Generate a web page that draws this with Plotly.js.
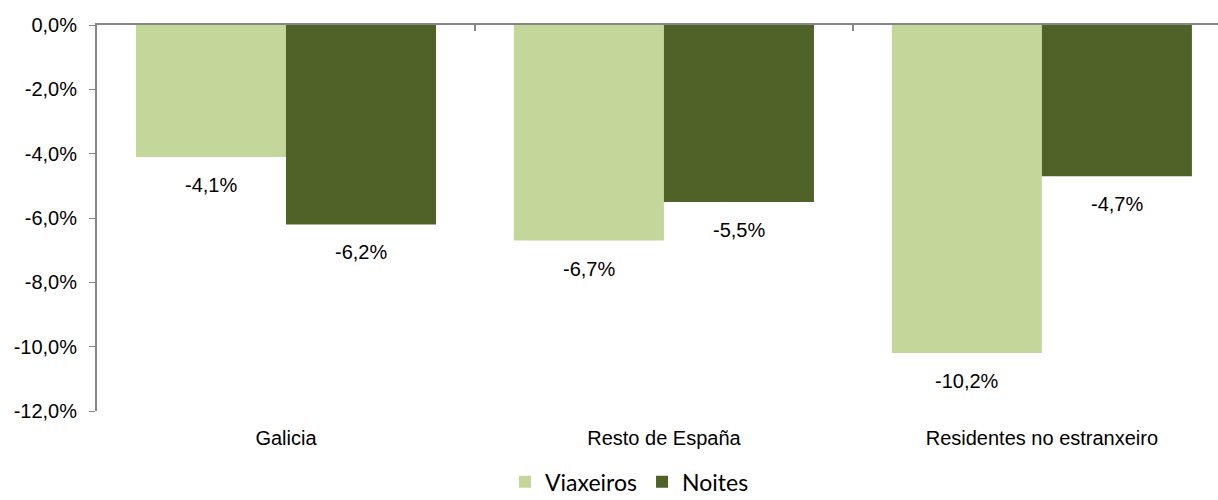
<!DOCTYPE html>
<html>
<head>
<meta charset="utf-8">
<script src="https://cdn.plot.ly/plotly-3.0.1.min.js"></script>
<style>
  html, body { margin: 0; padding: 0; background: #fff; }
  #graph { width: 1218px; height: 500px; }
</style>
</head>
<body>
<div id="graph"></div>
<script>
var categories = ['Galicia', 'Resto de España', 'Residentes no estranxeiro'];
var viaxeiros = [-4.1, -6.7, -10.2];
var noites = [-6.2, -5.5, -4.7];
var yTicks = [0, -2, -4, -6, -8, -10, -12];

function fmt(v) {
  return v.toFixed(1).replace('.', ',') + '%';
}

function main() {
  var font = 'Liberation Sans, Arial, sans-serif';

  var trace1 = {
    x: categories, y: viaxeiros, name: 'Viaxeiros', type: 'bar',
    marker: {color: '#C4D79B'}, hoverinfo: 'skip'
  };
  var trace2 = {
    x: categories, y: noites, name: 'Noites', type: 'bar',
    marker: {color: '#4F6228'}, hoverinfo: 'skip'
  };
  // empty trace so the top axis (zero line with boundary ticks) gets drawn
  var topAxis = {
    x: categories, y: [null, null, null], xaxis: 'x2', type: 'scatter',
    mode: 'markers', showlegend: false, hoverinfo: 'skip'
  };

  // value labels under each bar end
  var off = 0.198;
  var annotations = [];
  for (let i = 0; i < categories.length; i++) {
    annotations.push({x: i - off, y: viaxeiros[i], text: fmt(viaxeiros[i])});
    annotations.push({x: i + off, y: noites[i], text: fmt(noites[i])});
  }
  annotations = annotations.map(function(a) {
    return {
      x: a.x, y: a.y, xref: 'x', yref: 'y', text: a.text,
      showarrow: false, yanchor: 'top', xanchor: 'center', yshift: -15,
      font: {family: font, size: 20, color: '#000'}
    };
  });

  var layout = {
    width: 1218, height: 500,
    margin: {l: 97, r: 0, t: 25, b: 89, autoexpand: false},
    paper_bgcolor: '#fff', plot_bgcolor: '#fff',
    separators: ',.',
    barmode: 'group', bargap: 0.206, bargroupgap: 0,
    font: {family: font, size: 20, color: '#000'},
    xaxis: {
      type: 'category', range: [-0.5, 2.466],
      showline: false, showgrid: false, zeroline: false,
      ticks: '', ticklabelstandoff: 13,
      tickfont: {family: font, size: 20, color: '#000'}
    },
    xaxis2: {
      type: 'category', categoryarray: categories, categoryorder: 'array',
      overlaying: 'x', side: 'top', range: [-0.5, 2.466],
      showline: true, linecolor: '#868686', linewidth: 2,
      ticks: 'inside', tickson: 'boundaries', ticklen: 6, tickcolor: '#868686',
      tickwidth: 2, showticklabels: false, showgrid: false, zeroline: false
    },
    yaxis: {
      range: [-12, 0], tickvals: yTicks, ticktext: yTicks.map(fmt),
      showline: true, linecolor: '#868686', linewidth: 2,
      ticks: 'outside', ticklen: 6, tickcolor: '#868686', tickwidth: 1,
      ticklabelstandoff: 8,
      showgrid: false, zeroline: false,
      tickfont: {family: font, size: 20, color: '#000'}
    },
    showlegend: true,
    legend: {
      orientation: 'h', x: 0.475, xanchor: 'center', y: -0.128, yanchor: 'top',
      font: {family: 'Lato, Open Sans, sans-serif', size: 23, color: '#000'},
      itemwidth: 30, tracegroupgap: 0
    },
    annotations: annotations
  };

  Plotly.newPlot('graph', [trace1, trace2, topAxis], layout, {staticPlot: true});
}

document.addEventListener('DOMContentLoaded', main, false);
</script>
</body>
</html>
